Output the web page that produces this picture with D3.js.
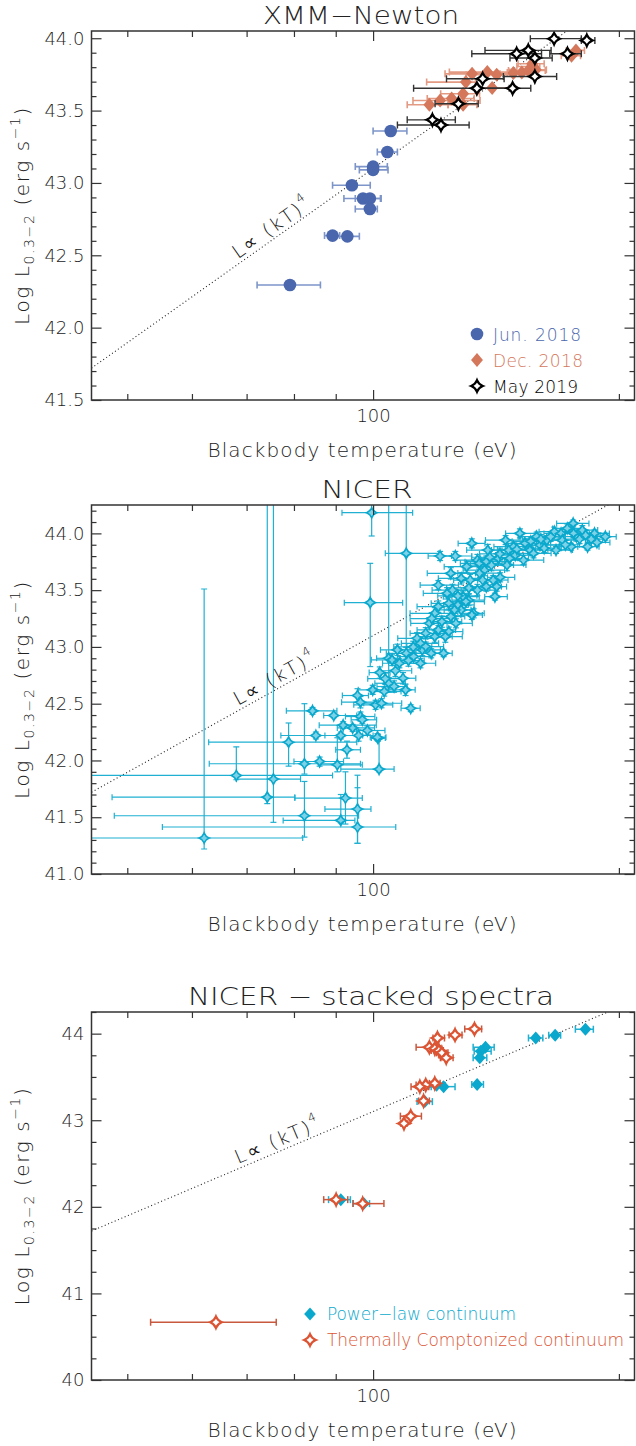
<!DOCTYPE html>
<html><head><meta charset="utf-8">
<script src="https://cdn.jsdelivr.net/npm/d3@7"></script>
<style>
body{margin:0;background:#fff}
text{font-family:"DejaVu Sans",sans-serif;font-weight:200;fill:#222}
</style>
</head><body>
<svg id="c" width="636" height="1446"></svg>
<script>
// ---------------- DATA ----------------
// XMM-Newton: [kT (eV), log L, kT low, kT high]
const xmmJun2018 = [
  [79.1,42.295,72.1,86.2],[89.2,42.636,87.2,91.0],[93.0,42.631,89.5,96.2],
  [94.2,42.984,89.2,99.2],[97.2,42.892,92.1,102.1],[99.1,42.892,95.1,102.3],
  [99.1,42.820,95.1,101.2],[100.0,43.113,95.1,104.1],[100.0,43.090,96.2,104.3],
  [104.1,43.214,101.2,107.1],[105.1,43.359,100.0,110.0]
];
const xmmDec2018 = [
  [117.2,43.540,110.1,123.6],[120.8,43.570,111.9,135.2],[124.8,43.584,116.5,133.0],
  [128.9,43.616,121.0,135.0],[128.9,43.540,123.5,134.0],[129.9,43.697,116.3,133.5],
  [132.2,43.754,122.5,143.0],[138.0,43.766,124.0,147.0],[141.7,43.748,130.0,149.0],
  [139.9,43.656,134.0,149.0],[148.5,43.759,142.0,152.0],[152.1,43.763,146.0,156.0],
  [154.9,43.777,146.5,162.5],[157.1,43.805,150.0,160.0],[158.2,43.782,152.0,163.0],
  [156.6,43.824,150.5,162.0],[175.0,43.879,170.0,179.5],[177.2,43.916,172.5,181.5]
];
const xmmMay2019 = [
  [118.2,43.436,110.1,126.1],[121.1,43.400,107.1,131.1],[127.2,43.547,119.1,134.5],
  [134.0,43.654,112.1,146.8],[148.2,43.654,134.0,156.0],[136.2,43.720,123.0,144.7],
  [157.8,43.736,144.4,167.8],[149.9,43.893,132.1,160.8],[154.9,43.916,137.1,165.2],
  [157.8,43.863,147.1,165.7],[166.6,43.997,155.8,179.9],[173.0,43.893,164.6,179.9],
  [182.7,43.985,179.9,186.9]
];
// NICER, sparse points with explicit bounds: [kT, logL, kT lo, kT hi, logL lo, logL hi]
const nicerSparse = [
  [62.1,41.317,44.0,82.0,41.22,43.51],[68.0,41.868,44.0,89.2,41.83,42.12],
  [74.2,41.677,47.9,80.2,41.62,44.6],[75.5,41.836,68.0,81.5,41.455,44.6],
  [82.4,41.513,48.2,96.0,41.325,41.815],[78.8,42.161,62.9,95.5,41.95,42.33],
  [82.4,41.971,63.0,96.5,41.88,42.50],[86.0,41.991,80.0,92.0,41.95,42.03],
  [90.4,41.962,86.0,97.0,41.90,42.20],[92.9,42.094,90.0,96.5,42.02,42.17],
  [92.5,41.669,80.2,97.0,41.44,41.90],[91.3,41.472,77.6,95.0,41.45,41.70],
  [95.7,41.572,87.3,99.4,41.27,41.87],[95.7,41.414,55.2,106.6,41.27,41.76],
  [101.7,41.924,91.3,106.1,41.90,42.20],[101.4,42.197,99.5,103.5,42.17,42.23],
  [99.2,43.390,92.2,108.7,42.827,43.736],[99.6,44.182,91.6,111.8,43.977,44.6],
  [109.8,43.824,103.5,120.4,43.00,44.6],[104.5,42.900,101.0,108.0,42.60,44.6]
];
// NICER, dense band: [kT, logL, kT err-, kT err+, logL err]
const nicerBand = [
  [84.3,42.437,6,6,0.03],[89.5,42.396,2.5,6,0.02],[85.1,42.220,8,12,0.03],[91.9,42.311,6,9,0.03],
  [91.3,42.220,4,5,0.03],[94.4,42.287,4,6,0.03],[96.0,42.220,5,4,0.05],[95.7,42.572,4,3,0.06],
  [96.5,42.513,5,5,0.05],[96.5,42.387,4,4,0.04],[97.0,42.358,3,4,0.03],[98.4,42.264,3,5,0.04],
  [101.2,42.205,2,2.5,0.03],[111.2,42.460,3,3,0.03],[99.9,42.622,4,6,0.04],[100.7,42.490,6,5,0.04],
  [102.4,42.504,5,6,0.04],[103.2,42.607,4,5,0.04],[101.9,42.774,3,3,0.05],[104.5,42.680,4,5,0.05],
  [106.1,42.651,5,4,0.05],[109.6,42.622,3,3,0.05],[108.8,42.724,4,4,0.05],[105.5,42.886,6,6,0.05],
  [107.7,42.856,5,6,0.04],[107.1,42.974,5,5,0.05],[109.8,42.944,6,5,0.05],[112.1,42.915,5,6,0.04],
  [114.3,42.856,6,5,0.04],[114.9,42.974,5,6,0.05],[117.8,42.944,5,5,0.04],[122.0,42.944,3,3,0.03],
  [113.2,43.076,6,6,0.05],[116.0,43.120,5,7,0.05],[119.0,43.091,6,6,0.05],[120.2,43.150,7,6,0.04],
  [123.8,43.135,5,5,0.04],[117.2,43.208,6,6,0.05],[121.4,43.223,5,7,0.05],[124.5,43.267,6,5,0.05],
  [126.3,43.208,5,6,0.04],[120.2,43.355,7,6,0.05],[123.8,43.384,6,7,0.05],[127.0,43.370,5,6,0.04],
  [128.2,43.326,6,5,0.05],[130.9,43.413,6,6,0.05],[132.8,43.296,4,4,0.04],[128.9,43.443,7,6,0.05],
  [123.2,43.472,8,8,0.05],[120.2,43.545,6,7,0.04],[125.1,43.501,7,8,0.05],[134.2,43.501,6,7,0.05],
  [137.6,43.531,6,6,0.04],[141.0,43.443,4,5,0.03],[141.7,43.531,4,4,0.04],[143.1,43.613,5,6,0.04],
  [124.5,43.648,8,9,0.05],[128.2,43.604,8,7,0.05],[131.5,43.589,6,8,0.05],[136.2,43.589,7,7,0.05],
  [120.8,43.801,4,4,0.04],[126.1,43.801,6,6,0.04],[132.1,43.912,5,5,0.04],[134.2,43.765,8,8,0.05],
  [134.9,43.736,7,9,0.05],[137.6,43.751,8,8,0.05],[139.6,43.721,8,9,0.05],[142.4,43.780,7,8,0.05],
  [145.9,43.721,6,8,0.05],[148.6,43.883,8,8,0.04],[151.3,44.000,6,7,0.04],[153.5,43.912,8,8,0.04],
  [155.7,43.853,7,8,0.04],[158.6,43.971,8,8,0.04],[160.1,43.897,7,9,0.04],[163.2,43.941,8,8,0.04],
  [166.7,44.015,7,8,0.04],[167.5,43.853,6,8,0.03],[169.9,44.000,8,8,0.04],[172.9,44.044,7,8,0.04],
  [175.8,44.088,8,8,0.03],[174.8,43.883,6,7,0.03],[177.4,43.971,7,8,0.04],[180.4,44.029,8,8,0.04],
  [182.1,43.985,7,8,0.04],[183.1,43.883,5,6,0.03],[186.7,44.000,7,8,0.03],[192.5,43.971,5,6,0.03],
  [145.3,43.941,8,8,0.04],[146.6,43.853,7,8,0.04],[152.8,43.765,8,9,0.04],[157.2,43.824,7,8,0.04],
  [149.3,43.809,8,8,0.04],[140.3,43.589,6,6,0.04],[136.9,43.677,8,8,0.05],[130.2,43.707,8,9,0.05],
  [138.2,43.853,8,7,0.05],[132.1,43.282,4,4,0.04],[114.3,43.032,6,6,0.05],[119.0,43.296,8,8,0.05],
  [116.0,43.003,6,6,0.04],[122.6,43.091,6,6,0.05],[125.8,43.326,6,6,0.05],[129.9,43.399,6,7,0.05],
  [160.5,43.950,8,8,0.04],[165.0,43.970,7,7,0.04],[170.5,43.940,8,8,0.04],[176.0,44.000,7,8,0.04],
  [179.0,43.950,7,7,0.04],[185.0,43.950,6,6,0.03],[188.0,43.920,6,7,0.03],[172.0,43.900,7,7,0.04],
  [162.0,43.870,8,8,0.04],[156.0,43.930,8,8,0.04],[150.0,43.860,8,8,0.04],[143.0,43.820,8,8,0.05],
  [147.0,43.780,8,8,0.05],[139.0,43.790,7,8,0.05],[135.0,43.650,8,8,0.05],[131.0,43.520,8,8,0.05],
  [127.0,43.450,7,7,0.05],[118.0,43.250,7,7,0.05],[112.0,43.000,6,6,0.05],[110.5,42.880,5,5,0.05],
  [106.5,42.790,5,5,0.05],[103.5,42.720,5,5,0.05]
];
// NICER stacked spectra: [kT, logL, kT lo, kT hi]
const stackedPowerLaw = [
  [182.0,44.050,176.9,186.1],[167.1,43.981,164.1,169.7],[158.2,43.950,155.0,161.4],
  [137.3,43.843,132.6,140.7],[135.5,43.797,133.0,139.5],[135.1,43.721,132.6,137.8],
  [134.1,43.414,132.1,136.5],[122.0,43.388,117.8,126.0],[119.6,43.403,117.0,122.5],
  [115.7,43.215,113.2,118.2],[91.3,42.083,88.2,93.8],[97.4,42.037,94.5,99.0]
];
const stackedComptonized = [
  [133.1,44.054,129.5,135.8],[126.0,43.985,123.9,128.5],[119.9,43.950,118.4,122.3],
  [117.2,43.843,112.9,119.3],[119.0,43.828,117.0,121.0],[120.4,43.805,117.8,121.9],
  [121.4,43.778,119.5,123.5],[122.9,43.721,120.9,125.3],[119.0,43.426,117.2,120.8],
  [116.0,43.407,112.9,119.0],[114.1,43.388,111.3,117.0],[115.3,43.223,113.7,117.2],
  [111.2,43.047,108.0,114.6],[109.1,42.963,108.2,110.0],[90.1,42.083,87.0,93.1],
  [97.1,42.037,94.5,103.1],[64.2,40.667,53.4,76.1]
];
// L ∝ (kT)^4 reference: logL at kT = 100 eV
const kt4Norm = 43.10;
// Axis ticks
const xDomain = [45.2, 209];
const xMajorTicks = [100];
const xMinorTicks = [50,60,70,80,90,200];
const xTickLabels = ["100"];
const yMajor1 = [41.5,42.0,42.5,43.0,43.5,44.0];
const yMajor2 = [41.0,41.5,42.0,42.5,43.0,43.5,44.0];
const yMajor3 = [40,41,42,43,44];
const titles = ["XMM\u2212Newton","NICER","NICER \u2212 stacked spectra"];
const legend1 = ["Jun. 2018","Dec. 2018","May 2019"];
const legend3 = ["Power\u2212law continuum","Thermally Comptonized continuum"];

// ---------------- STYLE ----------------
const C = {
  blue:"#4a67ad", blueErr:"#7d95c8",
  salmon:"#d4775b", salmonErr:"#e39a82",
  black:"#000", blackErr:"#333",
  cyan:"#0aa8cc", cyanErr:"#1fb0d2", cyanFill:"#7dd2e8",
  red:"#db5534", redErr:"#c8583e", axis:"#333"
};
const X0 = 91.5, X1 = 634.5;
const svg = d3.select("#c");
const x = d3.scaleLog().domain(xDomain).range([X0, X1]);

const panels = [
  {top:31, bottom:400, yDom:[41.5,44.05], major:yMajor1, minorStep:0.1, fmt:d3.format(".1f"), title:titles[0], tlen:196, tcx:361},
  {top:505, bottom:874, yDom:[41.0,44.25], major:yMajor2, minorStep:0.1, fmt:d3.format(".1f"), title:titles[1], tlen:91, tcx:367},
  {top:1012, bottom:1380, yDom:[40,44.25], major:yMajor3, minorStep:0.25, fmt:d3.format("d"), title:titles[2], tlen:366, tcx:371}
];

function starPath(r){
  const a = r*0.28;
  return `M0,${-r}Q${a},${-a} ${r},0Q${a},${a} 0,${r}Q${-a},${a} ${-r},0Q${-a},${-a} 0,${-r}Z`;
}
function diamondPath(r, w){
  return `M0,${-r}L${r*w},0L0,${r}L${-r*w},0Z`;
}

panels.forEach((p, i) => {
  const y = d3.scaleLinear().domain(p.yDom).range([p.bottom, p.top]);
  p.y = y;
  const g = svg.append("g");
  p.g = g;
  svg.append("clipPath").attr("id","clip"+i).append("rect")
    .attr("x",X0).attr("y",p.top).attr("width",X1-X0).attr("height",p.bottom-p.top);
  p.plot = g.append("g").attr("clip-path",`url(#clip${i})`);

  const minor = [];
  for (let v = p.yDom[0]; v <= p.yDom[1] + 1e-9; v += p.minorStep) {
    const vv = +v.toFixed(3);
    if (!p.major.some(m => Math.abs(m - vv) < 1e-6)) minor.push(vv);
  }
  const axG = g.append("g").attr("class","axes");
  axG.append("g").attr("transform",`translate(${X0},0)`)
    .call(d3.axisLeft(y).tickValues(p.major).tickSize(-10).tickSizeOuter(0).tickPadding(7).tickFormat(p.fmt));
  axG.append("g").attr("transform",`translate(${X0},0)`)
    .call(d3.axisLeft(y).tickValues(minor).tickSize(-5).tickSizeOuter(0).tickFormat(""));
  axG.append("g").attr("transform",`translate(${X1},0)`)
    .call(d3.axisRight(y).tickValues(p.major).tickSize(-10).tickSizeOuter(0).tickFormat(""));
  axG.append("g").attr("transform",`translate(${X1},0)`)
    .call(d3.axisRight(y).tickValues(minor).tickSize(-5).tickSizeOuter(0).tickFormat(""));
  axG.append("g").attr("transform",`translate(0,${p.bottom})`)
    .call(d3.axisBottom(x).tickValues(xMajorTicks).tickSize(-10).tickSizeOuter(0).tickPadding(9)
      .tickFormat((d,k) => xTickLabels[k]));
  axG.append("g").attr("transform",`translate(0,${p.bottom})`)
    .call(d3.axisBottom(x).tickValues(xMinorTicks).tickSize(-6).tickSizeOuter(0).tickFormat(""));
  axG.append("g").attr("transform",`translate(0,${p.top})`)
    .call(d3.axisTop(x).tickValues(xMajorTicks).tickSize(-10).tickSizeOuter(0).tickFormat(""));
  axG.append("g").attr("transform",`translate(0,${p.top})`)
    .call(d3.axisTop(x).tickValues(xMinorTicks).tickSize(-6).tickSizeOuter(0).tickFormat(""));
  axG.selectAll(".domain").remove();
  axG.selectAll(".tick line").attr("stroke",C.axis).attr("stroke-width",1.2);
  axG.selectAll(".tick text").attr("font-size",18).attr("fill","#222")
    .style("font-family","'DejaVu Sans',sans-serif").style("font-weight",200);
  g.append("rect").attr("x",X0).attr("y",p.top).attr("width",X1-X0).attr("height",p.bottom-p.top)
    .attr("fill","none").attr("stroke",C.axis).attr("stroke-width",1.5);

  // title
  g.append("text").attr("x",p.tcx).attr("y",p.top-7).attr("text-anchor","middle")
    .attr("font-size",24).attr("textLength",p.tlen).attr("lengthAdjust","spacingAndGlyphs").text(p.title);
  // x axis title
  g.append("text").attr("x",(X0+X1)/2 - 1).attr("y",p.bottom+57).attr("text-anchor","middle")
    .attr("font-size",20).attr("textLength",309).attr("lengthAdjust","spacing").text("Blackbody temperature (eV)");
  // y axis title
  const yt = g.append("text").attr("transform",`translate(29,${(p.top+p.bottom)/2}) rotate(-90)`)
    .attr("text-anchor","middle").attr("font-size",20).style("letter-spacing","1.6px");
  yt.append("tspan").text("Log L");
  yt.append("tspan").attr("font-size",14).attr("dy",5).text("0.3\u22122");
  yt.append("tspan").attr("dy",-5).text(" (erg s");
  yt.append("tspan").attr("font-size",14).attr("dy",-9).text("\u22121");
  yt.append("tspan").attr("dy",9).text(")");

  // L ∝ (kT)^4 dotted line
  const lineT = d3.range(0, 101).map(k => xDomain[0] * Math.pow(xDomain[1]/xDomain[0], k/100));
  p.plot.append("path")
    .attr("d", d3.line().x(d => x(d)).y(d => y(kt4Norm + 4*Math.log10(d/100)))(lineT))
    .attr("fill","none").attr("stroke","#222").attr("stroke-width",1.1).attr("stroke-dasharray","1,2.6");
  // label
  const lx = 238;
  const lT = x.invert(lx);
  const ly = y(kt4Norm + 4*Math.log10(lT/100));
  const slope = (y(kt4Norm + 4*Math.log10(x.invert(lx+10)/100)) - ly)/10;
  const ang = Math.atan(slope)*180/Math.PI;
  const lt = g.append("text").attr("transform",`translate(${lx},${ly-5}) rotate(${ang})`)
    .attr("font-size",19).style("letter-spacing","2px").style("fill","#111");
  lt.append("tspan").text("L\u221D (kT)");
  lt.append("tspan").attr("font-size",12).attr("dy",-10).text("4");
});

// ---------- error bar helpers ----------
function xErr(g, data, y, color, w, cap, lo=2, hi=3){
  const gg = g.append("g").attr("stroke",color).attr("stroke-width",w).attr("fill","none");
  data.forEach(d => {
    const yy = y(d[1]);
    gg.append("line").attr("x1",x(d[lo])).attr("x2",x(d[hi])).attr("y1",yy).attr("y2",yy);
    gg.append("line").attr("x1",x(d[lo])).attr("x2",x(d[lo])).attr("y1",yy-cap).attr("y2",yy+cap);
    gg.append("line").attr("x1",x(d[hi])).attr("x2",x(d[hi])).attr("y1",yy-cap).attr("y2",yy+cap);
  });
}
function yErr(g, data, y, color, w, cap, lo, hi){
  const gg = g.append("g").attr("stroke",color).attr("stroke-width",w).attr("fill","none");
  data.forEach(d => {
    const xx = x(d[0]);
    gg.append("line").attr("x1",xx).attr("x2",xx).attr("y1",y(d[lo])).attr("y2",y(d[hi]));
    gg.append("line").attr("x1",xx-cap).attr("x2",xx+cap).attr("y1",y(d[lo])).attr("y2",y(d[lo]));
    gg.append("line").attr("x1",xx-cap).attr("x2",xx+cap).attr("y1",y(d[hi])).attr("y2",y(d[hi]));
  });
}

// ---------- Panel 1: XMM ----------
{
  const p = panels[0], y = p.y, g = p.plot;
  xErr(g, xmmJun2018, y, C.blueErr, 1.6, 3.5);
  g.append("g").selectAll("circle").data(xmmJun2018).join("circle")
    .attr("cx",d=>x(d[0])).attr("cy",d=>y(d[1])).attr("r",6.3).attr("fill",C.blue);
  xErr(g, xmmDec2018, y, C.salmonErr, 1.6, 3.5);
  g.append("g").selectAll("path").data(xmmDec2018).join("path")
    .attr("transform",d=>`translate(${x(d[0])},${y(d[1])})`).attr("d",diamondPath(7,0.85)).attr("fill",C.salmon);
  xErr(g, xmmMay2019, y, C.blackErr, 1.4, 3.5);
  g.append("g").selectAll("path").data(xmmMay2019).join("path")
    .attr("transform",d=>`translate(${x(d[0])},${y(d[1])})`).attr("d",starPath(5.8))
    .attr("fill","#fff").attr("stroke","#000").attr("stroke-width",2.2);
  const lg = p.g.append("g");
  const items = [
    {t:legend1[0], c:C.blue, len:88, m:"c"},
    {t:legend1[1], c:C.salmon, len:90, m:"d"},
    {t:legend1[2], c:"#000", len:85, m:"s"}
  ];
  items.forEach((it,k) => {
    const cy = 334 + k*26;
    if (it.m==="c") lg.append("circle").attr("cx",477).attr("cy",cy).attr("r",6.3).attr("fill",it.c);
    if (it.m==="d") lg.append("path").attr("transform",`translate(477,${cy})`).attr("d",diamondPath(7,0.85)).attr("fill",it.c);
    if (it.m==="s") lg.append("path").attr("transform",`translate(477,${cy})`).attr("d",starPath(5.8))
      .attr("fill","#fff").attr("stroke","#000").attr("stroke-width",2.2);
    lg.append("text").attr("x",493).attr("y",cy+6.5).attr("font-size",17)
      .attr("textLength",it.len).attr("lengthAdjust","spacing")
      .style("fill",it.c).style("font-weight", it.m==="s" ? 300 : 200).text(it.t);
  });
}

// ---------- Panel 2: NICER ----------
{
  const p = panels[1], y = p.y, g = p.plot;
  const band = nicerBand.map(d => [d[0], d[1], d[0]-d[2], d[0]+d[3], d[1]-d[4], d[1]+d[4]]);
  xErr(g, nicerSparse, y, C.cyanErr, 1.2, 3);
  yErr(g, nicerSparse, y, C.cyanErr, 1.2, 3, 4, 5);
  xErr(g, band, y, C.cyanErr, 1.2, 3);
  yErr(g, band, y, C.cyanErr, 1.2, 3, 4, 5);
  const all = nicerSparse.concat(band);
  g.append("g").selectAll("path").data(all).join("path")
    .attr("transform",d=>`translate(${x(d[0])},${y(d[1])})`).attr("d",starPath(5))
    .attr("fill",C.cyanFill).attr("stroke",C.cyan).attr("stroke-width",1.7);
}

// ---------- Panel 3: stacked ----------
{
  const p = panels[2], y = p.y, g = p.plot;
  xErr(g, stackedPowerLaw, y, C.cyanErr, 1.5, 3.5);
  g.append("g").selectAll("path").data(stackedPowerLaw).join("path")
    .attr("transform",d=>`translate(${x(d[0])},${y(d[1])})`).attr("d",diamondPath(6.5,0.9)).attr("fill",C.cyan);
  xErr(g, stackedComptonized, y, C.redErr, 1.5, 3.5);
  g.append("g").selectAll("path").data(stackedComptonized).join("path")
    .attr("transform",d=>`translate(${x(d[0])},${y(d[1])})`).attr("d",starPath(5.8))
    .attr("fill","#fff").attr("stroke",C.red).attr("stroke-width",2.2);
  const lg = p.g.append("g");
  lg.append("path").attr("transform","translate(310,1314)").attr("d",diamondPath(6.5,0.9)).attr("fill",C.cyan);
  lg.append("text").attr("x",327).attr("y",1320).attr("font-size",17)
    .attr("textLength",189).attr("lengthAdjust","spacing").style("fill",C.cyan).text(legend3[0]);
  lg.append("path").attr("transform","translate(310,1340)").attr("d",starPath(5.8))
    .attr("fill","#fff").attr("stroke",C.red).attr("stroke-width",2.2);
  lg.append("text").attr("x",327).attr("y",1346).attr("font-size",17)
    .attr("textLength",297).attr("lengthAdjust","spacing").style("fill",C.red).text(legend3[1]);
}
</script>
</body></html>
